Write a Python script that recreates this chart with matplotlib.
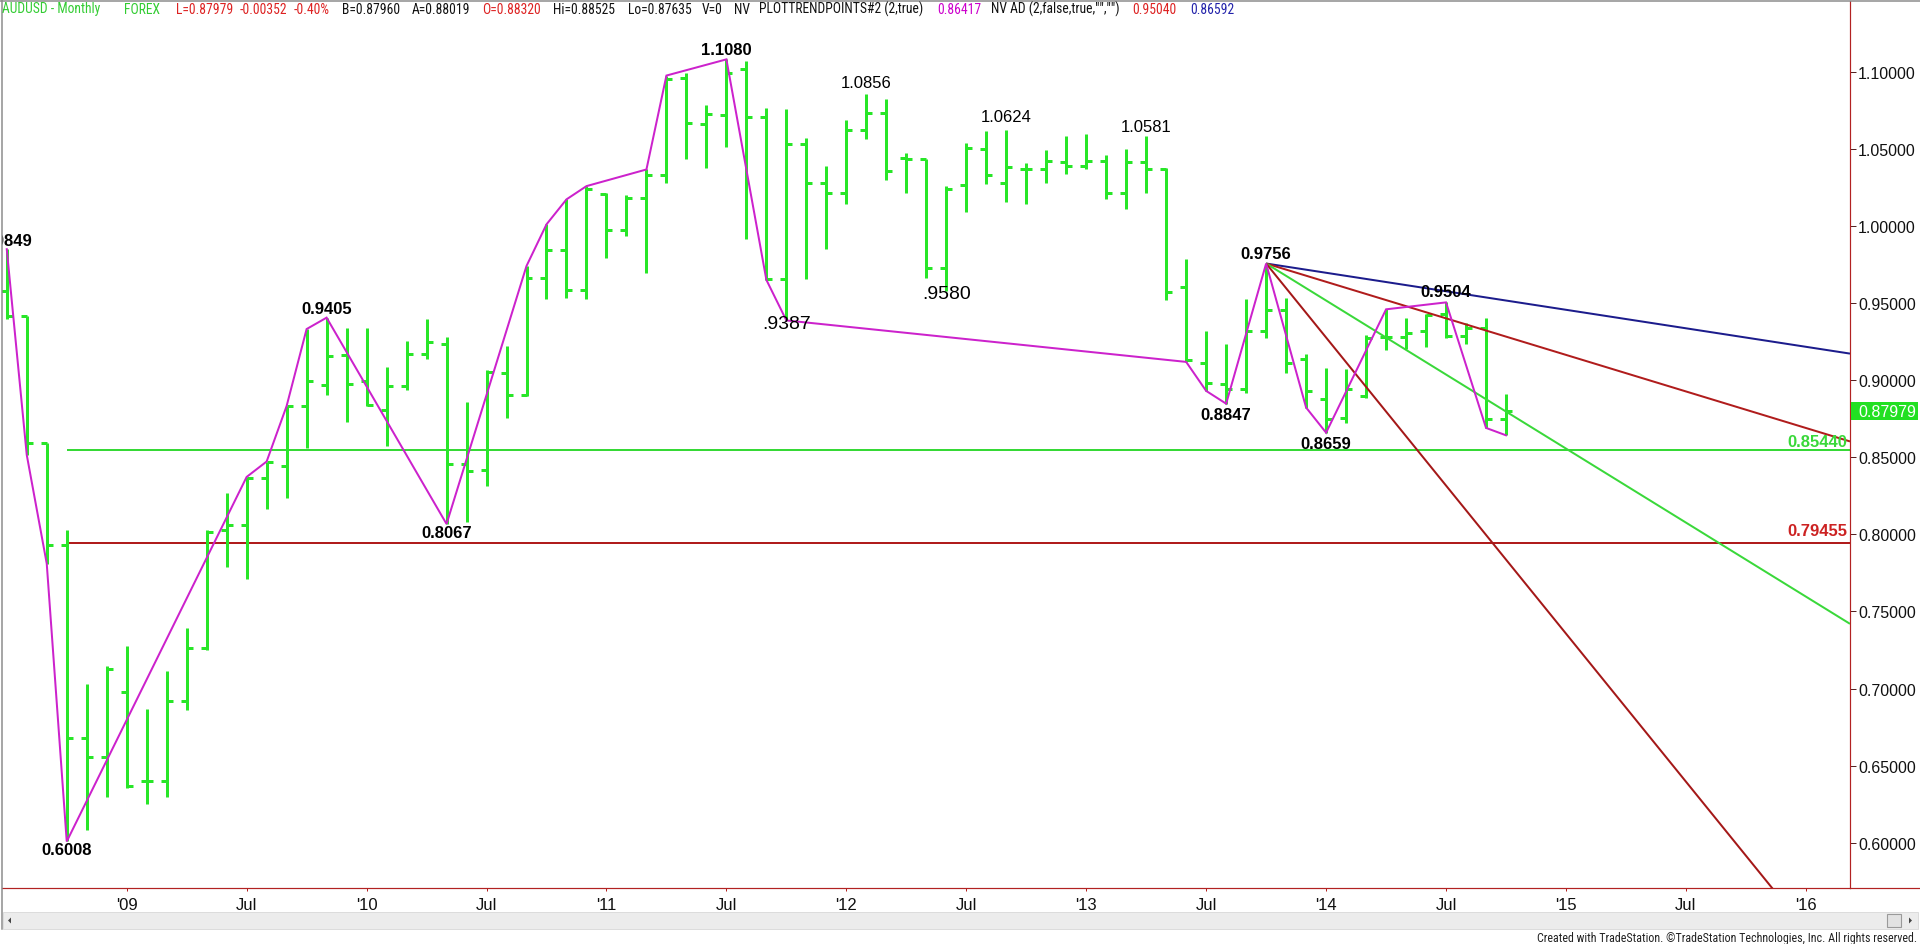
import matplotlib
matplotlib.use('Agg')
import matplotlib.pyplot as plt
from matplotlib.collections import LineCollection
from matplotlib import font_manager
from matplotlib.patches import Rectangle, Polygon
from matplotlib.lines import Line2D
import matplotlib.transforms as mtransforms

# ---------------- data (month index: 0 = Jan 2009) ----------------
months = list(range(-6, 70))          # Jul 2008 .. Oct 2014
opens = [0.9581, 0.9417, 0.8593, 0.7931, 0.6681, 0.6557,
         0.6975, 0.6398, 0.6398, 0.6917, 0.7262, 0.8026, 0.8063, 0.8363, 0.8444, 0.8832, 0.8968, 0.9164,
         0.8991, 0.8804, 0.8962, 0.9169, 0.9236, 0.8458, 0.8415, 0.9048, 0.8901, 0.9664, 0.9841, 0.9584,
         1.0205, 0.9971, 1.0183, 1.0327, 1.0960, 1.0664, 1.0716, 1.1019, 1.0708, 0.9658, 1.0528, 1.0280,
         1.0211, 1.0625, 1.0729, 1.0442, 1.0431, 0.9729, 1.0263, 1.0500, 1.0280, 1.0366, 1.0370, 1.0414,
         1.0388, 1.0420, 1.0211, 1.0414, 1.0366, 0.9606, 0.9113, 0.8973, 0.8940, 0.9318, 0.9455, 0.9135,
         0.8880, 0.8757, 0.8897, 0.9282, 0.9282, 0.9318, 0.9427, 0.9286, 0.9340, 0.8746]
highs = [0.9849, 0.9417, 0.8593, 0.8026, 0.7026, 0.7147,
         0.7277, 0.6865, 0.7113, 0.7392, 0.8026, 0.8271, 0.8372, 0.8472, 0.8832, 0.9331, 0.9405, 0.9336,
         0.9336, 0.9083, 0.9256, 0.9394, 0.9279, 0.8861, 0.9063, 0.9221, 0.9740, 1.0010, 1.0172, 1.0258,
         1.0215, 1.0200, 1.0366, 1.0975, 1.0993, 1.0781, 1.1080, 1.1069, 1.0766, 1.0755, 1.0571, 1.0388,
         1.0690, 1.0856, 1.0820, 1.0474, 1.0431, 1.0258, 1.0539, 1.0615, 1.0624, 1.0409, 1.0491, 1.0582,
         1.0593, 1.0457, 1.0500, 1.0581, 1.0377, 0.9787, 0.9318, 0.9232, 0.9524, 0.9756, 0.9534, 0.9167,
         0.9081, 0.9074, 0.9290, 0.9459, 0.9405, 0.9427, 0.9504, 0.9373, 0.9405, 0.8908]
lows = [0.9394, 0.8515, 0.7810, 0.6008, 0.6082, 0.6298,
        0.6355, 0.6254, 0.6298, 0.6859, 0.7248, 0.7787, 0.7709, 0.8161, 0.8236, 0.8559, 0.8904, 0.8731,
        0.8832, 0.8573, 0.8939, 0.9135, 0.8067, 0.8083, 0.8314, 0.8757, 0.8897, 0.9528, 0.9534, 0.9528,
        0.9794, 0.9934, 0.9696, 1.0280, 1.0431, 1.0377, 1.0513, 0.9917, 0.9650, 0.9387, 0.9653, 0.9848,
        1.0139, 1.0561, 1.0297, 1.0215, 0.9664, 0.9580, 1.0090, 1.0269, 1.0154, 1.0139, 1.0280, 1.0334,
        1.0370, 1.0172, 1.0107, 1.0211, 0.9519, 0.9118, 0.8930, 0.8847, 0.8919, 0.9275, 0.9048, 0.8822,
        0.8659, 0.8724, 0.8886, 0.9195, 0.9200, 0.9217, 0.9275, 0.9232, 0.8690, 0.8642]
closes = [0.9417, 0.8593, 0.7931, 0.6681, 0.6557, 0.7124,
          0.6370, 0.6398, 0.6917, 0.7262, 0.8017, 0.8063, 0.8363, 0.8467, 0.8832, 0.8991, 0.9158, 0.8976,
          0.8841, 0.8962, 0.9169, 0.9244, 0.8458, 0.8409, 0.9054, 0.8901, 0.9664, 0.9841, 0.9584, 1.0237,
          0.9971, 1.0183, 1.0327, 1.0955, 1.0669, 1.0723, 1.0993, 1.0708, 0.9658, 1.0528, 1.0280, 1.0211,
          1.0625, 1.0729, 1.0355, 1.0431, 0.9729, 1.0237, 1.0507, 1.0327, 1.0384, 1.0366, 1.0424, 1.0388,
          1.0420, 1.0211, 1.0414, 1.0366, 0.9571, 0.9128, 0.8979, 0.8940, 0.9318, 0.9455, 0.9113, 0.8930,
          0.8746, 0.8940, 0.9275, 0.9282, 0.9308, 0.9420, 0.9286, 0.9340, 0.8746, 0.87979]

# swing-point zigzag (PLOTTRENDPOINTS)
zig_m = [-6, -5, -4, -3, 6, 7, 8, 9, 10, 16, 20, 21, 22, 23, 26, 27, 30, 32, 33,
         53, 54, 55, 57, 59, 60, 63, 66, 68, 69]
zig_v = [0.9849, 0.8515, 0.7810, 0.6008, 0.8372, 0.8472, 0.8832, 0.9331, 0.9405, 0.8067,
         0.9740, 1.0010, 1.0172, 1.0258, 1.0366, 1.0975, 1.1080, 0.9650, 0.9387,
         0.9118, 0.8930, 0.8847, 0.9756, 0.8822, 0.8659, 0.9459, 0.9504, 0.8690, 0.8642]

# swing labels
swing_m = [-6, -3, 10, 16, 30, 33, 37, 41, 44, 51, 57, 55, 60, 66]
swing_v = [0.9849, 0.6008, 0.9405, 0.8067, 1.1080, 0.9387, 1.0856, 0.9580, 1.0624, 1.0581,
           0.9756, 0.8847, 0.8659, 0.9504]
swing_text = ['0.9849', '0.6008', '0.9405', '0.8067', '1.1080', '.9387', '1.0856', '.9580',
              '1.0624', '1.0581', '0.9756', '0.8847', '0.8659', '0.9504']

# fan lines from the Oct-2013 high
fan_anchor_m = 57
fan_anchor_v = 0.9756
fan_slopes = [-0.0020, -0.00395, -0.0080, -0.0160]   # price per month

# horizontal levels
level_values = [0.8544, 0.79455]
level_texts = ['0.85440', '0.79455']
level_start_m = -3

last_price = 0.87979

xtick_m = [0, 6, 12, 18, 24, 30, 36, 42, 48, 54, 60, 66, 72, 78, 84]
xtick_labels = ["'09", "Jul", "'10", "Jul", "'11", "Jul", "'12", "Jul", "'13", "Jul",
                "'14", "Jul", "'15", "Jul", "'16"]
ytick_values = [0.60, 0.65, 0.70, 0.75, 0.80, 0.85, 0.90, 0.95, 1.00, 1.05, 1.10]

header_texts = ['AUDUSD - Monthly', 'FOREX', 'L=0.87979', '-0.00352', '-0.40%', 'B=0.87960',
                'A=0.88019', 'O=0.88320', 'Hi=0.88525', 'Lo=0.87635', 'V=0', 'NV',
                'PLOTTRENDPOINTS#2 (2,true)', '0.86417', 'NV AD (2,false,true,"","")',
                '0.95040', '0.86592']
footer_text = 'Created with TradeStation. \u00a9TradeStation Technologies, Inc. All rights reserved.'

# ---------------- styles ----------------
W, H = 1920, 945
PX = 0.72  # points per pixel at dpi 100
ttfs = font_manager.fontManager.ttflist
avail = {f.name for f in ttfs}
BASE = 'Liberation Sans' if 'Liberation Sans' in avail else 'DejaVu Sans'
plt.rcParams['font.family'] = [BASE, 'DejaVu Sans']

# narrow font for header / footer if one is installed
narrow_kw = dict(family=[BASE, 'DejaVu Sans'])
for cand in ['Liberation Sans Narrow', 'Roboto Condensed', 'Open Sans Condensed']:
    if cand in avail:
        narrow_kw = dict(family=[cand, 'DejaVu Sans'])
        break
else:
    for f in ttfs:
        if f.name in ('DejaVu Sans', 'Noto Sans', 'Roboto', 'Open Sans') and 'condensed' in str(f.stretch) \
                and f.weight in (400, 'normal', 'regular') and f.style == 'normal':
            narrow_kw = dict(family=[f.name, 'DejaVu Sans'], fontstretch='condensed')
            break

BAR_GREEN = '#28e628'
PURPLE = '#cc22cc'
AXRED = '#b22222'
fan_colors = ['#1c1c8c', '#b01c1c', '#3ad83a', '#a41818']

fig = plt.figure(figsize=(W / 100, H / 100), dpi=100)
fig.patch.set_facecolor('white')
ax_l, ax_r, ax_t, ax_b = 2, 1850, 2, 889
ax = fig.add_axes([ax_l / W, 1 - ax_b / H, (ax_r - ax_l) / W, (ax_b - ax_t) / H])
x0 = (ax_l - 126.7) / 19.99
x1 = (ax_r - 126.7) / 19.99
ax.set_xlim(x0, x1)
y_of_px = lambda p: 1.10 - (p - 72.7) / 1542.0
ax.set_ylim(y_of_px(ax_b), y_of_px(ax_t))

# OHLC bars
tw = 0.3
segs = []
for m, o, h, l, c in zip(months, opens, highs, lows, closes):
    segs.append([(m, l), (m, h)])
    segs.append([(m - tw, o), (m, o)])
    segs.append([(m, c), (m + tw, c)])
ax.add_collection(LineCollection(segs, colors=BAR_GREEN, linewidths=3 * PX,
                                 capstyle='butt', zorder=3))

# horizontal levels
level_colors = ['#36d936', '#b01c1c']
level_text_colors = ['#3ad83a', '#cc2222']
level_text_off = [4, 8]
for v, t, col, tcol, off in zip(level_values, level_texts, level_colors, level_text_colors, level_text_off):
    ax.plot([level_start_m, x1], [v, v], color=col, lw=2 * PX, zorder=2, solid_capstyle='butt')
    tr = mtransforms.offset_copy(ax.transData, fig=fig, x=-3, y=off, units='dots')
    ax.text(x1, v, t, transform=tr, ha='right', va='baseline', color=tcol,
            fontsize=12, fontweight='bold', zorder=6)

# fan lines
for s, col in zip(fan_slopes, fan_colors):
    xe = x1
    ax.plot([fan_anchor_m, xe], [fan_anchor_v, fan_anchor_v + s * (xe - fan_anchor_m)],
            color=col, lw=2 * PX, zorder=4, solid_capstyle='butt')

# zigzag
ax.plot(zig_m, zig_v, color=PURPLE, lw=2 * PX, zorder=5, solid_joinstyle='miter')

# swing labels (position / style per label)
label_style = [  # (placement, pixel offset, bold, size)
    ('above', 4, True, 12), ('below', 1, True, 12), ('above', 5, True, 12), ('below', 1, True, 12),
    ('above', 5, True, 12), ('center', -3, False, 14), ('above', 7, False, 12), ('center', -3, False, 14),
    ('above', 9, False, 12), ('above', 5, False, 12), ('above', 6, True, 12), ('below', 3, True, 12),
    ('below', 3, True, 12), ('above', 6, True, 12)]
for m, v, t, (pl, off, bold, fs) in zip(swing_m, swing_v, swing_text, label_style):
    if pl == 'above':
        va, dy = 'baseline', off
    elif pl == 'below':
        va, dy = 'top', -off
    else:
        va, dy = 'center', off
    tr = mtransforms.offset_copy(ax.transData, fig=fig, y=dy, units='dots')
    ax.text(m, v, t, transform=tr, ha='center', va=va, fontsize=fs,
            fontweight='bold' if bold else 'normal', color='black', zorder=7, clip_on=True)

# axes styling
for sp in ['left', 'top']:
    ax.spines[sp].set_visible(False)
ax.spines['right'].set_color(AXRED)
ax.spines['bottom'].set_color(AXRED)
ax.spines['right'].set_linewidth(1.2 * PX)
ax.spines['bottom'].set_linewidth(1.2 * PX)
ax.yaxis.tick_right()
ax.set_yticks(ytick_values)
ax.set_yticklabels([f'{v:.5f}' for v in ytick_values])
ax.tick_params(axis='y', direction='out', length=6 * PX, width=1 * PX, color='#552222',
               pad=1.5, labelsize=11.5, labelcolor='#111111')
ax.set_xticks(xtick_m)
ax.set_xticklabels(xtick_labels)
ax.tick_params(axis='x', direction='out', length=3 * PX, width=1 * PX, color=AXRED,
               pad=4, labelsize=12, labelcolor='#111111')

# last price box
bt = mtransforms.blended_transform_factory(fig.transFigure, ax.transData)
box_h = 18 / 1542.0
ax.add_patch(Rectangle((1851 / W, last_price - box_h / 2), 67 / W, box_h, transform=bt,
                       facecolor='#22e022', edgecolor='none', clip_on=False, zorder=8))
ax.text(1858 / W, last_price, f'{last_price:.5f}', transform=bt, ha='left', va='center',
        color='white', fontsize=11.5, clip_on=False, zorder=9)

# window frame lines
fig.add_artist(Line2D([0, 1], [1 - 1.5 / H, 1 - 1.5 / H], color='#8a8a8a', lw=1.5 * PX))
fig.add_artist(Line2D([1.5 / W, 1.5 / W], [1 - 930 / H, 1], color='#8a8a8a', lw=1.5 * PX))
fig.add_artist(Line2D([ax_r / W, 1], [1 - ax_b / H, 1 - ax_b / H], color=AXRED, lw=1.2 * PX))

# scrollbar
fig.add_artist(Rectangle((3 / W, 1 - 930 / H), 1915 / W, 17 / H, transform=fig.transFigure,
                         facecolor='#ececec', edgecolor='#dcdcdc', lw=0.7))
fig.add_artist(Rectangle((1887 / W, 1 - 928 / H), 14 / W, 13 / H, transform=fig.transFigure,
                         facecolor='#e2e2e2', edgecolor='#9a9a9a', lw=0.8))
fig.add_artist(Polygon([(8 / W, 1 - 921.5 / H), (11 / W, 1 - 918.5 / H), (11 / W, 1 - 924.5 / H)],
                       closed=True, transform=fig.transFigure, facecolor='#444444', edgecolor='none'))
fig.add_artist(Polygon([(1912 / W, 1 - 921.5 / H), (1909 / W, 1 - 918.5 / H), (1909 / W, 1 - 924.5 / H)],
                       closed=True, transform=fig.transFigure, facecolor='#444444', edgecolor='none'))

# header
renderer = fig.canvas.get_renderer()
header_x = [2, 124, 176, 240, 294, 342, 412, 482, 553, 628, 702, 734, 759, 937, 991, 1132, 1190]
header_cols = ['#33cc33', '#33cc33', '#dd2222', '#dd2222', '#dd2222', '#111111', '#111111',
               '#dd2222', '#111111', '#111111', '#111111', '#111111', '#111111', '#cc00cc',
               '#111111', '#dd2222', '#2222aa']
probe = fig.text(0, 0, header_texts[12], fontsize=10, **narrow_kw)
wp = probe.get_window_extent(renderer).width
probe.remove()
hfs = 10 * 165 / wp
for t, xp, col in zip(header_texts, header_x, header_cols):
    fig.text(xp / W, 1 - 9.5 / H, t, fontsize=hfs, color=col, ha='left', va='center', **narrow_kw)

probe = fig.text(0, 0, footer_text, fontsize=10, **narrow_kw)
wf = probe.get_window_extent(renderer).width
probe.remove()
ffs = 10 * 377 / wf
fig.text(1917 / W, 1 - 939 / H, footer_text, fontsize=ffs, color='#222222', ha='right',
         va='center', **narrow_kw)

fig.savefig('out.png', dpi=100, facecolor='white')
